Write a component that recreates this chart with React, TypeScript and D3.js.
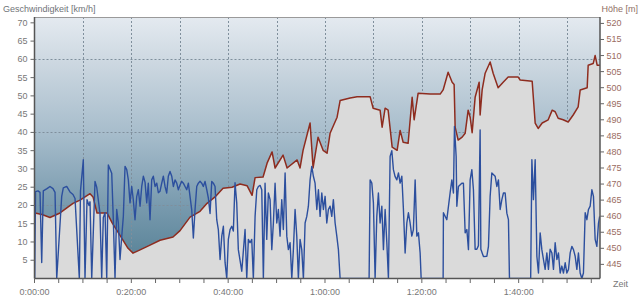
import { useEffect } from "react"
import * as d3 from "d3"

// elevation profile: minutes since start / metres
const elevTime = [
  0.1, 1.55, 3.2, 5.27, 7.95, 9.4, 11.47, 12.09, 12.91, 14.98, 16.01, 17.66, 19.32, 20.35, 21.8,
  23.86, 25.93, 28.61, 30.06, 32.13, 34.19, 35.64, 37.29, 38.94, 40.8, 42.46, 43.9, 44.94, 45.56,
  47.21, 48.04, 49.07, 49.69, 51.34, 52.17, 54.24, 54.85, 55.47, 56.92, 57.54, 58.57, 59.61, 60.43,
  61.05, 62.5, 63.12, 65.19, 66.63, 69.32, 69.94, 71.38, 71.8, 72.42, 73.04, 73.87, 74.9, 75.52,
  76.14, 77.17, 78.0, 78.41, 79.24, 81.72, 83.79, 84.4, 85.43, 86.26, 86.67, 86.88, 87.5, 88.33,
  88.95, 89.57, 89.98, 90.39, 91.01, 91.84, 92.04, 92.46, 93.08, 94.11, 94.73, 95.76, 96.8, 97.83,
  99.9, 100.31, 102.79, 103.41, 104.03, 104.86, 106.1, 106.93, 107.54, 108.16, 109.19, 110.23,
  111.26, 112.29, 112.71, 114.15, 114.36, 115.39, 115.8, 116.21, 116.73,
]
const elevValue = [
  461, 460.5, 459.6, 461, 464, 465, 467, 466, 461, 461, 458, 454, 450, 448.5, 449.5,
  451, 452.5, 453.5, 455.5, 459.7, 461.5, 464, 466, 468.7, 469, 470, 469.5, 466.5, 472,
  472.2, 476.5, 480, 475, 479, 475, 477.5, 475, 480.5, 489, 475, 484.6, 480.5, 479.6,
  485.8, 490.8, 496, 496.8, 497.2, 497.2, 493.6, 493, 487.7, 493.6, 493, 481.5, 480.5, 486.7,
  483, 482.7, 497, 490, 498.3, 498, 498, 499.3, 504.8, 501.7, 501, 487.7, 483.7, 484.6,
  485.8, 493, 490.8, 486, 497, 501.7, 491.5, 499.3, 504.5, 508, 504.5, 500, 501.7, 503.3,
  503.3, 502.4, 502, 489, 487.3, 489, 490, 493, 492.5, 490.5, 490, 489.3,
  491.5, 494, 499.3, 500, 507, 507.5, 510, 507, 507,
]

// speed: minutes since start / km/h
const speedTime = [
  0.04, 0.21, 0.72, 1.14, 1.49, 1.82, 2.58, 3.2, 3.82, 4.24, 4.59, 5.62, 5.95, 6.65, 7.33, 7.95,
  8.37, 9.26, 9.5, 10.08, 10.43, 10.85, 11.26, 11.47, 11.82, 12.5, 12.85, 13.53, 13.88, 14.21,
  14.57, 14.92, 15.25, 15.95, 16.28, 16.63, 16.98, 17.31, 17.66, 18.02, 18.35, 18.7, 19.05, 19.38,
  19.73, 20.08, 20.41, 20.76, 21.11, 21.45, 21.8, 22.15, 22.48, 22.83, 23.18, 23.51, 23.86, 24.21,
  24.54, 24.9, 25.25, 25.58, 25.93, 26.28, 26.61, 26.96, 27.31, 27.64, 27.99, 28.35, 28.68, 29.03,
  29.38, 29.71, 30.06, 30.41, 30.74, 31.09, 31.44, 31.78, 32.13, 32.48, 32.81, 33.16, 33.51, 33.84,
  34.19, 34.54, 34.87, 35.22, 35.58, 35.91, 36.26, 36.61, 36.94, 37.29, 37.64, 37.97, 38.33, 38.68,
  39.01, 39.36, 39.71, 40.04, 40.39, 40.74, 41.07, 41.42, 41.77, 42.1, 42.81, 43.49, 43.84, 44.17,
  44.52, 44.87, 45.2, 45.56, 45.91, 46.24, 46.59, 46.94, 47.27, 47.62, 47.97, 48.3, 48.66, 49.01,
  49.34, 49.69, 50.04, 50.37, 50.72, 51.07, 51.4, 51.76, 52.11, 52.44, 52.79, 53.14, 53.47, 53.82,
  54.17, 54.5, 54.85, 55.2, 55.54, 55.89, 56.24, 56.57, 56.92, 57.27, 57.6, 57.95, 58.31, 58.64,
  58.99, 59.34, 59.67, 60.02, 60.37, 60.7, 61.05, 61.4, 61.73, 62.09, 62.44, 62.77, 63.12, 69.11,
  69.32, 69.67, 70.0, 70.35, 70.7, 71.03, 71.38, 71.74, 72.07, 72.42, 72.77, 73.1, 73.45, 73.8,
  74.13, 74.48, 74.84, 75.17, 75.52, 75.87, 76.2, 76.55, 76.9, 77.23, 77.58, 77.93, 78.26, 78.62,
  78.97, 79.3, 79.65, 79.86, 84.4, 84.46, 85.16, 85.85, 86.2, 86.53, 86.74, 87.09, 87.23, 87.56,
  88.26, 88.59, 88.95, 89.3, 89.63, 89.98, 90.33, 90.66, 91.01, 91.36, 91.69, 92.04, 92.19, 92.73,
  93.43, 93.76, 94.11, 94.46, 95.14, 95.49, 95.82, 96.18, 96.53, 96.86, 97.21, 97.56, 97.89, 98.1,
  102.48, 102.73, 103.05, 103.41, 103.76, 104.09, 104.44, 104.79, 105.12, 105.47, 105.82, 106.15,
  106.5, 106.86, 107.19, 107.54, 107.89, 108.22, 108.57, 108.92, 109.25, 109.61, 109.96, 110.29,
  110.64, 110.99, 111.32, 111.67, 112.02, 112.35, 112.7, 113.05, 113.38, 113.74, 114.09, 114.42,
  114.77, 115.12, 115.45, 115.8, 116.15, 116.48, 116.73,
]
const speedValue = [
  0, 23.8, 24, 23.6, 4.4, 24, 24.6, 25.2, 24.6, 23.6, 0, 22.5, 24.8, 25.2, 23.7, 23,
  21.9, 0, 24, 32.5, 0, 21.6, 20, 21, 0, 26.6, 25, 17.8, 0, 16.7,
  18, 0, 31.1, 28.8, 16.1, 0, 18.9, 15.3, 5.2, 11.5, 17, 30.7, 29.8, 27,
  20.7, 25.2, 21.5, 16.1, 22.4, 24.3, 19.8, 25.2, 28, 26.4, 20.7, 26.1, 16.1, 27,
  28, 25.2, 26.1, 23.5, 23.9, 26.1, 28, 25.2, 23.4, 28, 29.3, 28, 25.2, 27,
  26.1, 24.3, 25.6, 26.6, 26.1, 25.2, 24.3, 26.1, 22.4, 18.7, 11.1, 18.9, 25.2, 26.1,
  26.6, 26.1, 25.2, 26.6, 24.3, 22, 17.8, 26.6, 26.1, 25.2, 16.1, 13.4, 5.2, 11.6,
  14.3, 4.4, 0, 10.7, 13.4, 14.3, 13, 26.2, 20.7, 7.9, 2, 13.4, 0, 10.7,
  9.8, 10.7, 0, 17, 24.3, 25.2, 25.5, 24.3, 0, 26.1, 10.7, 23.4, 21.6, 7.9,
  15.2, 26.1, 15.2, 18.9, 11.6, 21.6, 13.4, 28.9, 11.6, 7.9, 9.8, 0, 7.9, 18.9,
  11.6, 0, 10.7, 7.9, 0, 15.2, 17, 19.8, 27, 30.7, 28, 26.1, 18.9, 24.3,
  17, 23.4, 18.9, 22.5, 15.2, 18.9, 19.8, 17, 21.6, 15.2, 11.6, 7.9, 0, 0,
  27, 26.1, 20.7, 0, 17, 23.4, 15.2, 19.8, 7.9, 18.9, 9.8, 0, 33.4, 35,
  29.8, 27.9, 27, 28.9, 26.1, 28, 18.9, 7, 15.2, 18, 15.2, 11.6, 13.4, 27,
  11.6, 12.5, 7, 0, 0, 18, 16.1, 23.5, 27, 23.4, 41.6, 33.4, 19.8, 25.2,
  26.1, 26.1, 12.5, 13.4, 7.9, 27, 29.8, 24.3, 8, 8, 9, 40.7, 8, 6,
  6.1, 8.8, 22.5, 28.9, 28, 25.2, 27, 18.9, 21.6, 23.4, 23.4, 17.9, 16.1, 0,
  0, 32.5, 21.6, 32.5, 6.1, 1.5, 12.5, 7.9, 5.2, 2.5, 7, 2.5,
  8, 7, 2.5, 9.8, 5.2, 7, 1.5, 3.4, 1.5, 4.3, 1.5, 2.5,
  7, 8.8, 7.9, 6.1, 2.5, 7, 1.5, 0, 1.5, 18, 16.1, 18.9,
  19.8, 24.3, 22.5, 10.7, 8.8, 15, 17,
]

const speedTicks = [5, 10, 15, 20, 25, 30, 35, 40, 45, 50, 55, 60, 65, 70]
const speedGrid = [20, 40, 60]
const elevTicks = [445, 450, 455, 460, 465, 470, 475, 480, 485, 490, 495, 500, 505, 510, 515, 520]
const timeLabels = [0, 20, 40, 60, 80, 100]
const timeGrid = [10, 20, 30, 40, 50, 60, 70, 80, 90, 100, 110]

const W = 640
const H = 298
const left = 34.5
const right = 600
const top = 17
const bottom = 278.5

const fmtTime = (m: number) => `${Math.floor(m / 60)}:${d3.format("02")(m % 60)}:00`

export default function App() {
  useEffect(() => {
    document.body.style.margin = "0"
  }, [])

  const x = d3.scaleLinear().domain([0, 116.8]).range([left, right])
  const ySpeed = d3.scaleLinear().domain([0, 71.6]).range([bottom, top])
  const yElev = d3.scaleLinear().domain([440.6, 522]).range([bottom, top])

  const elev = elevTime.map((t, i) => ({ t, v: elevValue[i] }))
  const speed = speedTime.map((t, i) => ({ t, v: speedValue[i] }))

  const elevArea = d3
    .area<{ t: number; v: number }>()
    .x((d) => x(d.t))
    .y0(bottom)
    .y1((d) => yElev(d.v))([{ t: 0, v: elevValue[0] }, ...elev, { t: 116.8, v: elevValue[elevValue.length - 1] }])
  const elevLine = d3
    .line<{ t: number; v: number }>()
    .x((d) => x(d.t))
    .y((d) => yElev(d.v))([{ t: 0, v: elevValue[0] }, ...elev, { t: 116.8, v: elevValue[elevValue.length - 1] }])
  const speedLine = d3
    .line<{ t: number; v: number }>()
    .x((d) => x(d.t))
    .y((d) => ySpeed(d.v))(speed)

  const font = "'Liberation Sans', Arial, sans-serif"
  const minorTicks = d3.range(0, 116, 5)

  return (
    <svg width={W} height={H} style={{ display: "block", fontFamily: font }}>
      <defs>
        <linearGradient id="bg" x1="0" y1={top} x2="0" y2={bottom} gradientUnits="userSpaceOnUse">
          <stop offset="0" stopColor="#e4eaf0" />
          <stop offset="0.17" stopColor="#cdd8e1" />
          <stop offset="0.45" stopColor="#a6bccb" />
          <stop offset="0.73" stopColor="#7799ad" />
          <stop offset="1" stopColor="#4e7b90" />
        </linearGradient>
        <clipPath id="plot">
          <rect x={left} y={top} width={right - left} height={bottom - top} />
        </clipPath>
      </defs>
      <rect width={W} height={H} fill="#fff" />
      <rect x={left} y={top} width={right - left} height={bottom - top} fill="url(#bg)" />

      <g stroke="#7f8f9c" strokeWidth={1} strokeDasharray="2,2" fill="none">
        {timeGrid.map((t) => (
          <line key={"vg" + t} x1={Math.round(x(t)) + 0.5} x2={Math.round(x(t)) + 0.5} y1={top} y2={bottom} />
        ))}
        {speedGrid.map((v) => (
          <line key={"hg" + v} x1={left} x2={right} y1={Math.round(ySpeed(v)) + 0.5} y2={Math.round(ySpeed(v)) + 0.5} />
        ))}
      </g>

      <g clipPath="url(#plot)">
        <path d={elevArea ?? ""} fill="#dadada" />
        <path d={elevLine ?? ""} fill="none" stroke="#8e2c1f" strokeWidth={1.5} strokeLinejoin="round" />
        <path d={speedLine ?? ""} fill="none" stroke="#2c4f9e" strokeWidth={1.4} strokeLinejoin="round" />
      </g>

      <line x1={left} x2={right} y1={top + 0.5} y2={top + 0.5} stroke="#9a9a9a" />
      <line x1={left} x2={left} y1={top} y2={bottom} stroke="#555" strokeWidth={1.5} />
      <line x1={right} x2={right} y1={top} y2={bottom} stroke="#555" strokeWidth={1.5} />
      <line x1={left} x2={right} y1={bottom} y2={bottom} stroke="#555" strokeWidth={1.5} />

      <g fontSize={9} fill="#777">
        {speedTicks.map((v) => (
          <g key={"s" + v}>
            <line x1={left - 4} x2={left} y1={ySpeed(v)} y2={ySpeed(v)} stroke="#666" />
            <text x={left - 7} y={ySpeed(v) + 3} textAnchor="end">
              {v}
            </text>
          </g>
        ))}
      </g>
      <g fontSize={9} fill="#9a6c62">
        {elevTicks.map((v) => (
          <g key={"e" + v}>
            <line x1={right} x2={right + 4} y1={yElev(v)} y2={yElev(v)} stroke="#666" />
            <text x={right + 6.5} y={yElev(v) + 3}>
              {v}
            </text>
          </g>
        ))}
      </g>
      <g fontSize={9} fill="#777">
        {minorTicks.map((t) => (
          <line key={"mt" + t} x1={x(t)} x2={x(t)} y1={bottom} y2={bottom + 4.5} stroke="#666" />
        ))}
        {timeLabels.map((t) => (
          <text key={"tl" + t} x={x(t)} y={294.5} textAnchor="middle">
            {fmtTime(t)}
          </text>
        ))}
        <text x={613} y={287}>
          Zeit
        </text>
      </g>

      <text x={3} y={12} fontSize={9} fill="#6f7378">
        Geschwindigkeit [km/h]
      </text>
      <text x={638} y={12} fontSize={9} fill="#8f6f66" textAnchor="end">
        Höhe [m]
      </text>
    </svg>
  )
}
